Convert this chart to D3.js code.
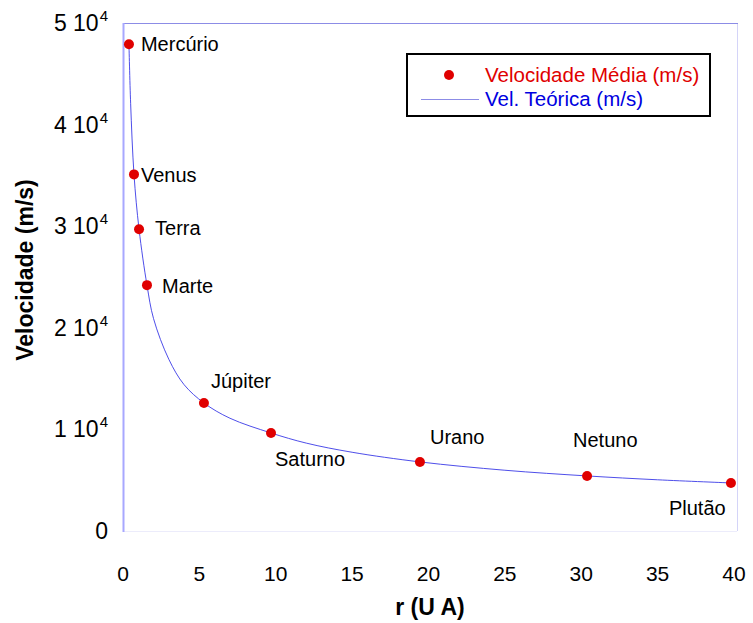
<!DOCTYPE html>
<html><head><meta charset="utf-8">
<script src="https://cdn.jsdelivr.net/npm/d3@7"></script>
<style>body{margin:0;background:#fff}svg{display:block;font-family:"Liberation Sans",Arial,sans-serif}</style>
</head><body><svg id="c" width="753" height="623"></svg>
<script>
const planets = ["Mercúrio","Venus","Terra","Marte","Júpiter","Saturno","Urano","Netuno","Plutão"];
const distanceUA = [0.39, 0.72, 1.05, 1.57, 5.3, 9.69, 19.44, 30.38, 39.8];
const velocity = [47900, 35100, 29700, 24200, 12600, 9650, 6800, 5420, 4730];
const curveR = [0.39, 0.5, 0.72, 1.05, 1.57, 2, 3, 4, 5.3, 7, 9.69, 12, 15, 19.44, 25, 30.38, 35, 39.8];
const curveV = [47900, 42100, 35100, 29700, 24200, 20900, 16900, 14400, 12600, 11100, 9650, 8650, 7750, 6800, 5980, 5420, 5040, 4730];
const xTicks = [0, 5, 10, 15, 20, 25, 30, 35, 40];
const yTicks = [0, 1, 2, 3, 4, 5];
const legendLabels = ["Velocidade Média (m/s)", "Vel. Teórica (m/s)"];
// label offsets (layout)
const labelDx = [12, 7, 16, 15, 7, 4, 10, -14, -62];
const labelDy = [0, 1, -1, 1, -22, 26, -25, -36, 25];

const svg = d3.select("#c");
const m = {l:123, r:734, t:23, b:531};
const x = d3.scaleLinear().domain([0,40]).range([m.l, m.r]);
const y = d3.scaleLinear().domain([0,50000]).range([m.b, m.t]);
const frameR = m.r + 3;

// frame
svg.append("line").attr("x1",m.l).attr("x2",frameR).attr("y1",m.b+0.5).attr("y2",m.b+0.5).attr("stroke","#ececfb");
svg.append("line").attr("x1",frameR+0.5).attr("x2",frameR+0.5).attr("y1",m.t).attr("y2",m.b).attr("stroke","#d4d4f8");
svg.append("line").attr("x1",m.l).attr("x2",frameR+1).attr("y1",m.t+0.5).attr("y2",m.t+0.5).attr("stroke","#8c8ce6");
svg.append("line").attr("x1",m.l+0.5).attr("x2",m.l+0.5).attr("y1",m.t).attr("y2",m.b+1).attr("stroke","#a8a8ff").attr("stroke-width",2);

// y ticks
const yt = svg.append("g");
yTicks.forEach(t => {
  const tx = yt.append("text").attr("x",108).attr("y",y(t*10000)+8).attr("text-anchor","end").attr("font-size",23).attr("fill","#000");
  if (t===0) { tx.text("0"); }
  else {
    tx.append("tspan").text(t+" 10");
    tx.append("tspan").attr("font-size",15).attr("dy",-10).attr("dx",1).text("4");
  }
});
// x ticks
svg.append("g").selectAll("text").data(xTicks).join("text")
  .attr("x",d=>x(d)).attr("y",581).attr("text-anchor","middle").attr("font-size",21).text(d=>d);

// titles
svg.append("text").attr("x",430).attr("y",615).attr("text-anchor","middle").attr("font-size",23).attr("font-weight","bold").text("r (U A)");
svg.append("text").attr("transform","translate(33,270) rotate(-90)").attr("text-anchor","middle").attr("font-size",23).attr("font-weight","bold").text("Velocidade (m/s)");

// curve
const pts = curveR.map((r,i)=>[r,curveV[i]]);
svg.append("path").datum(pts).attr("fill","none").attr("stroke","#3a3ae6").attr("stroke-width",0.9)
  .attr("d", d3.line().x(d=>x(d[0])).y(d=>y(d[1])).curve(d3.curveCatmullRom.alpha(0.5)));

// points
svg.append("g").selectAll("circle").data(planets).join("circle")
  .attr("cx",(d,i)=>x(distanceUA[i])).attr("cy",(d,i)=>y(velocity[i])).attr("r",5).attr("fill","#e00000");
svg.append("g").selectAll("text").data(planets).join("text")
  .attr("x",(d,i)=>x(distanceUA[i])+labelDx[i]).attr("y",(d,i)=>y(velocity[i])+labelDy[i]+7)
  .attr("font-size",20).attr("fill","#000").text(d=>d);

// legend
const lg = svg.append("g");
lg.append("rect").attr("x",407).attr("y",54).attr("width",303).attr("height",62).attr("fill","#fff").attr("stroke","#000").attr("stroke-width",2);
lg.append("circle").attr("cx",449).attr("cy",75).attr("r",5).attr("fill","#e00000");
lg.append("line").attr("x1",421).attr("x2",479).attr("y1",99.5).attr("y2",99.5).attr("stroke","#8c8ce6").attr("stroke-width",1);
lg.append("text").attr("x",485).attr("y",82).attr("font-size",20.5).attr("fill","#e00000").text(legendLabels[0]);
lg.append("text").attr("x",485).attr("y",106).attr("font-size",20.5).attr("fill","#0000e0").text(legendLabels[1]);
</script></body></html>
